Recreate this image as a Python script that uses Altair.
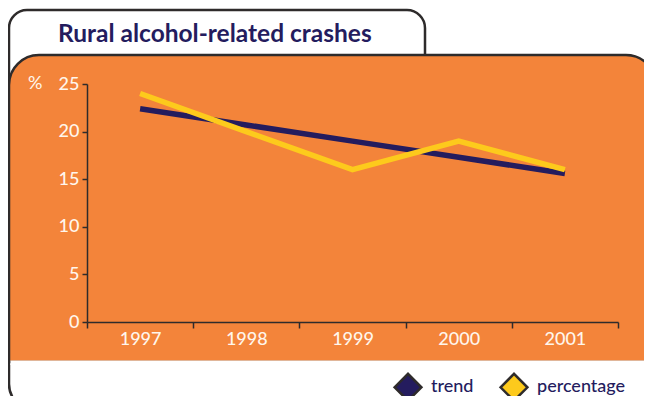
import altair as alt
import pandas as pd

# ---- data ----
years = ['1997', '1998', '1999', '2000', '2001']
percentage = [24, 20, 16, 19, 16]
trend = [22.4, 20.7, 19.0, 17.3, 15.6]
series_names = ['trend', 'percentage']
series_colors = ['#241c5e', '#fdca1c']
y_ticks = [0, 5, 10, 15, 20, 25]
title_text = 'Rural alcohol-related crashes'
y_unit = '%'

df = pd.DataFrame({
    'year': years * 2,
    'series': ['trend'] * len(years) + ['percentage'] * len(years),
    'value': trend + percentage,
})

# ---- style ----
W, H = 531, 238
ORANGE = '#f3843a'
EDGE = '#2e2b2b'
NAVY = '#241c5e'
LABEL = '#fff6ec'
FONT = 'Lato'

one = pd.DataFrame({'k': [0]})
deco = alt.Chart(one)

tab = deco.mark_rect(fill='white', stroke=EDGE, strokeWidth=2.5,
                     cornerRadiusTopLeft=18, cornerRadiusTopRight=18).encode(
    x=alt.value(-78), x2=alt.value(338), y=alt.value(-74), y2=alt.value(66))
outer = deco.mark_rect(fill='white', stroke=EDGE, strokeWidth=2.5,
                       cornerRadiusBottomLeft=26, cornerRadiusBottomRight=26).encode(
    x=alt.value(-78), x2=alt.value(568), y=alt.value(16), y2=alt.value(326))
panel = deco.mark_rect(fill=ORANGE, stroke=EDGE, strokeWidth=2.5,
                       cornerRadiusTopLeft=30, cornerRadiusTopRight=30).encode(
    x=alt.value(-78), x2=alt.value(569), y=alt.value(-29), y2=alt.value(278))
cover = deco.mark_rect(fill='white').encode(
    x=alt.value(-76.6), x2=alt.value(575), y=alt.value(276.5), y2=alt.value(281))

title = deco.mark_text(text=title_text, font=FONT, fontSize=24.5, fontWeight='bold',
                       color=NAVY, align='left', baseline='alphabetic').encode(
    x=alt.value(-29), y=alt.value(-42))
unit = deco.mark_text(text=y_unit, font=FONT, fontSize=18, color=LABEL,
                      align='left', baseline='alphabetic').encode(
    x=alt.value(-59), y=alt.value(5))

legend = alt.Legend(
    orient='none', legendX=306, legendY=288, direction='horizontal', title=None,
    padding=0, symbolType='diamond', symbolSize=720, symbolStrokeWidth=2.5,
    symbolOpacity=1,
    labelFont=FONT, labelFontSize=18, labelFontWeight=500, labelColor=NAVY,
    labelOffset=8, columnPadding=21,
)

x_enc = alt.X('year:O', bandPosition=0.5,
              scale=alt.Scale(type='band', paddingInner=0, paddingOuter=0),
              axis=alt.Axis(title=None, labelAngle=0, tickBand='extent', tickSize=6,
                            labelPadding=2, grid=False, zindex=1))
y_enc = alt.Y('value:Q', scale=alt.Scale(domain=[0, 25], nice=False, zero=True),
              axis=alt.Axis(title=None, values=y_ticks, tickSize=5, labelPadding=3,
                            grid=False, zindex=1))
color_scale = alt.Scale(domain=series_names, range=series_colors)
edge_scale = alt.Scale(domain=series_names, range=[EDGE] * len(series_names))

base = alt.Chart(df).mark_line(strokeWidth=5.5, strokeCap='butt', strokeJoin='miter').encode(
    x=x_enc, y=y_enc, color=alt.Color('series:N', scale=color_scale, legend=None))
trend_line = base.transform_filter(alt.datum.series == 'trend')
pct_line = base.transform_filter(alt.datum.series == 'percentage')

# points that only carry the diamond legend; they sit beneath the orange panel
keys = alt.Chart(df).mark_point(filled=True, shape='diamond', strokeWidth=2.5).encode(
    x=x_enc, y=y_enc,
    fill=alt.Fill('series:N', scale=color_scale, legend=legend),
    stroke=alt.Stroke('series:N', scale=edge_scale, legend=legend))

chart = alt.layer(keys, tab, outer, panel, cover, title, unit, trend_line, pct_line).properties(
    width=W, height=H,
    padding={'left': 79, 'top': 76, 'right': 26, 'bottom': 74},
    autosize=alt.AutoSizeParams(type='none'),
    background='white',
).configure_view(stroke=None).configure_axis(
    labelFont=FONT, labelFontSize=18, labelFontWeight=500, labelColor=LABEL,
    domainColor=EDGE, domainWidth=1.5, tickColor=EDGE, tickWidth=1.5,
)

chart.save('out.html', embed_options={'renderer': 'svg', 'actions': False})
